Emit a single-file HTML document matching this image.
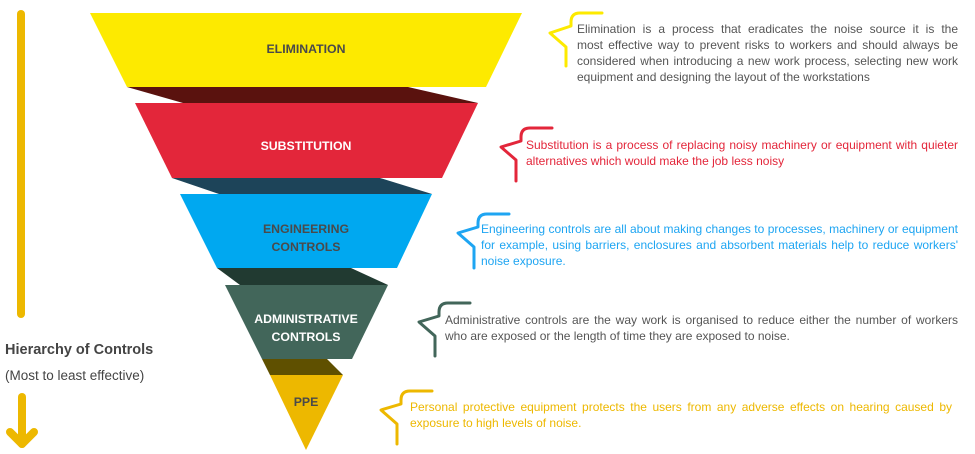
<!DOCTYPE html>
<html><head><style>
body{margin:0;width:975px;height:454px;background:#fff;position:relative;overflow:hidden;font-family:"Liberation Sans",sans-serif}
.t{position:absolute;font-size:12px;line-height:16px}
.t div{text-align:justify;text-align-last:justify;white-space:nowrap}
.t div.e{text-align-last:left}
.l{position:absolute;font-weight:bold;font-size:12.3px;text-align:center;line-height:18px}
</style></head><body>
<svg width="975" height="454" style="position:absolute;left:0;top:0">
<polygon points="90,13 522,13 486,87 127,87" fill="#fdea00"/>
<polygon points="127,87 408,87 478,103 183,103" fill="#5a120e"/>
<polygon points="135,103 478,103 442,178 172,178" fill="#e3263a"/>
<polygon points="172,178 380,178 432,194 219,194" fill="#1d4459"/>
<polygon points="180,194 432,194 397,268 217,268" fill="#00a8f0"/>
<polygon points="217,268 351,268 388,285 240,285" fill="#213a31"/>
<polygon points="225,285 388,285 352,359 262,359" fill="#42665a"/>
<polygon points="262,359 327,359 343,375 270,375" fill="#5f5000"/>
<polygon points="270,375 343,375 306,450" fill="#edb800"/>
<g fill="none" stroke-width="3" stroke-linejoin="round" stroke-linecap="round">
<path d="M602,13 H580 Q571,13 571,22 V26 L550,33 L566,47 V66" stroke="#fdea00"/>
<path d="M552,128 H530 Q521,128 521,137 V141 L501,147 L516,160 V181" stroke="#e3263a"/>
<path d="M509,214 H487 Q478,214 478,223 V227 L458,233 L474,247 V268" stroke="#1ea5f2"/>
<path d="M470,303 H448 Q439,303 439,312 V316 L419,322 L435,336 V356" stroke="#42665a"/>
<path d="M432,391 H410 Q401,391 401,400 V404 L381,410 L397,424 V444" stroke="#edb800"/>
</g>
<line x1="21" y1="14" x2="21" y2="314" stroke="#edb800" stroke-width="8" stroke-linecap="round"/>
<g stroke="#edb800" stroke-width="8" stroke-linecap="round" stroke-linejoin="round" fill="none">
<line x1="22" y1="397" x2="22" y2="444"/>
<polyline points="10,432 22,444 34,432"/>
</g>
</svg>
<div class="l" style="left:200px;top:40px;width:212px;color:#4a4a4a">ELIMINATION</div>
<div class="l" style="left:200px;top:137px;width:212px;color:#fff">SUBSTITUTION</div>
<div class="l" style="left:200px;top:220px;width:212px;color:#4a4a4a">ENGINEERING<br>CONTROLS</div>
<div class="l" style="left:200px;top:310px;width:212px;color:#fff">ADMINISTRATIVE<br>CONTROLS</div>
<div class="l" style="left:200px;top:393px;width:212px;color:#4a4a4a">PPE</div>
<div style="position:absolute;left:5px;top:342px;font-size:14.5px;font-weight:bold;color:#444">Hierarchy of Controls</div>
<div style="position:absolute;left:5px;top:368px;font-size:13.5px;color:#444">(Most to least effective)</div>
<div class="t" style="left:577px;top:21px;width:381px;color:#555"><div>Elimination is a process that eradicates the noise source it is the</div><div>most effective way to prevent risks to workers and should always be</div><div>considered when introducing a new work process, selecting new work</div><div class="e">equipment and designing the layout of the workstations</div></div>
<div class="t" style="left:526px;top:137px;width:432px;color:#e3263a"><div>Substitution is a process of replacing noisy machinery or equipment with quieter</div><div class="e">alternatives which would make the job less noisy</div></div>
<div class="t" style="left:481px;top:221px;width:477px;color:#1ea5f2"><div>Engineering controls are all about making changes to processes, machinery or equipment</div><div>for example, using barriers, enclosures and absorbent materials help to reduce workers'</div><div class="e">noise exposure.</div></div>
<div class="t" style="left:445px;top:312px;width:513px;color:#555"><div>Administrative controls are the way work is organised to reduce either the number of workers</div><div class="e">who are exposed or the length of time they are exposed to noise.</div></div>
<div class="t" style="left:410px;top:399px;width:542px;color:#edb800"><div>Personal protective equipment protects the users from any adverse effects on hearing caused by</div><div class="e">exposure to high levels of noise.</div></div>
</body></html>
